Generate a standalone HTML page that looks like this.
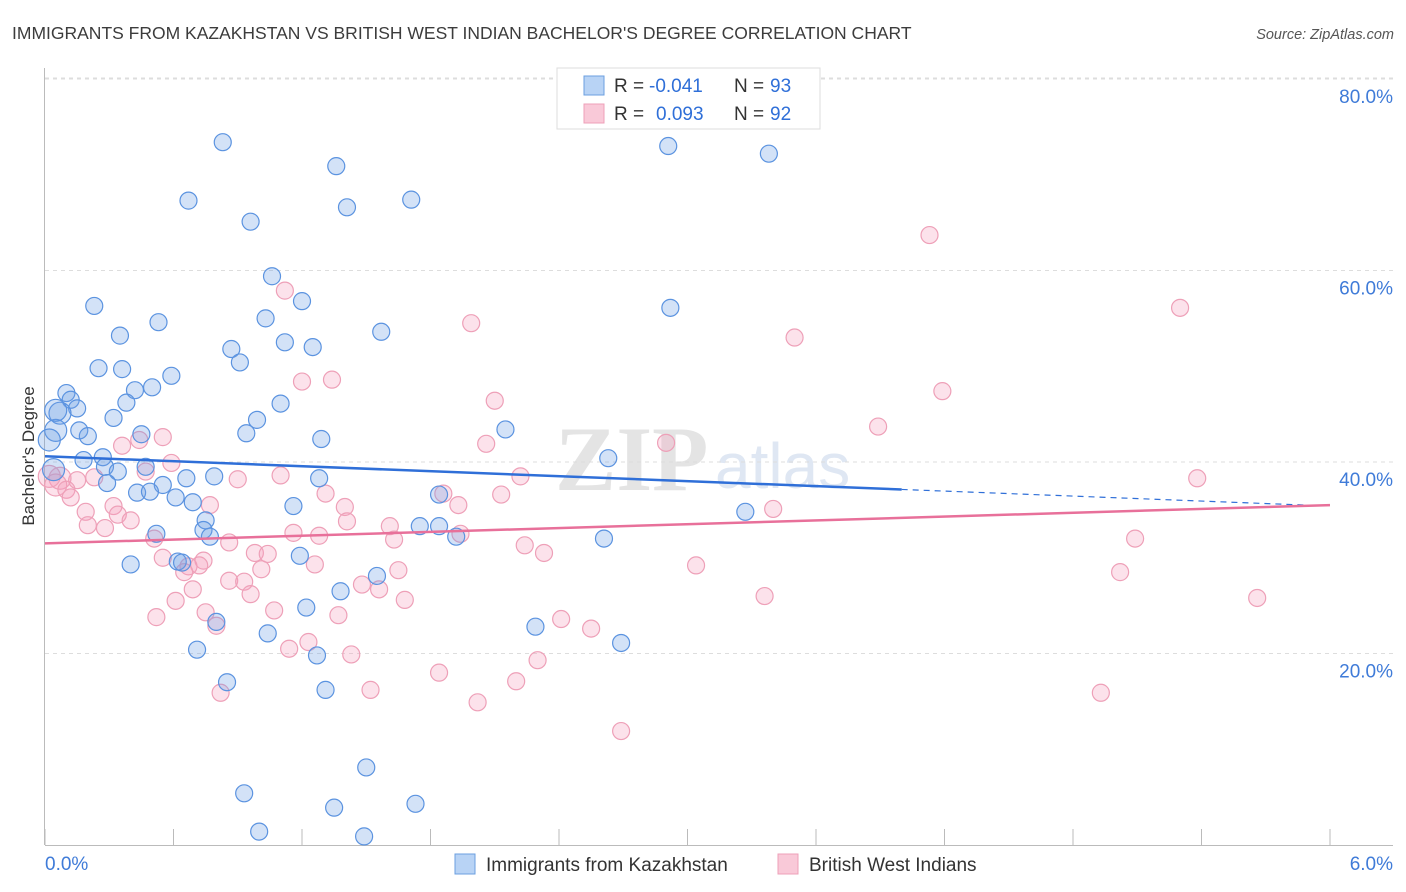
<!DOCTYPE html>
<html><head><meta charset="utf-8">
<style>
body{margin:0;background:#fff;font-family:"Liberation Sans",sans-serif;}
svg{display:block}
</style></head>
<body>
<svg id="chart" width="1406" height="892" viewBox="0 0 1406 892" xmlns="http://www.w3.org/2000/svg">
<text x="12" y="39" font-size="17.5" fill="#3c3c3c" font-family="Liberation Sans, sans-serif">IMMIGRANTS FROM KAZAKHSTAN VS BRITISH WEST INDIAN BACHELOR'S DEGREE CORRELATION CHART</text>
<text x="1394" y="39" font-size="14.5" fill="#555" font-style="italic" text-anchor="end" font-family="Liberation Sans, sans-serif">Source: ZipAtlas.com</text>
<g>
<text x="555" y="490" font-size="92" fill="#e4e4e4" font-family="Liberation Serif, serif" font-weight="bold">ZIP</text>
<text x="715" y="488" font-size="64" fill="#dfe7f3" font-family="Liberation Sans, sans-serif">atlas</text>
</g>
<g id="grid"></g>
<g id="axes"></g>
<text transform="translate(34,456) rotate(-90)" font-size="17" fill="#333" text-anchor="middle" font-family="Liberation Sans, sans-serif">Bachelor's Degree</text>
<g id="pts"></g>
<g id="trends"></g>
<g font-size="19">
<rect x="557" y="68" width="263" height="61" fill="#fff" stroke="#ddd"/>
<rect x="584" y="76" width="20" height="19" fill="#b8d3f5" stroke="#6b9fe0"/>
<rect x="584" y="104" width="20" height="19" fill="#f9c9d8" stroke="#eea0b8"/>
<text x="614" y="92" fill="#333">R =</text>
<text x="649" y="92" fill="#2f6fd8">-0.041</text>
<text x="734" y="92" fill="#333">N =</text>
<text x="770" y="92" fill="#2f6fd8">93</text>
<text x="614" y="120" fill="#333">R =</text>
<text x="656" y="120" fill="#2f6fd8">0.093</text>
<text x="734" y="120" fill="#333">N =</text>
<text x="770" y="120" fill="#2f6fd8">92</text>
</g>
<g>
<rect x="455" y="854" width="20" height="20" fill="#b8d3f5" stroke="#6b9fe0"/>
<text x="486" y="871" font-size="19" fill="#333">Immigrants from Kazakhstan</text>
<rect x="778" y="854" width="20" height="20" fill="#f9c9d8" stroke="#eea0b8"/>
<text x="809" y="871" font-size="19" fill="#333">British West Indians</text>
</g>
</svg>
<script>
const blueX=[0.83,0.67,0.96,1.36,1.41,1.71,2.91,3.38,1.06,1.20,0.23,1.03,0.53,1.57,0.35,0.87,1.12,1.25,0.91,0.25,0.36,0.59,0.50,0.42,0.10,0.12,0.15,0.07,0.32,0.38,1.10,0.99,0.94,0.05,0.16,0.20,0.45,1.29,2.15,0.18,0.27,0.28,0.34,0.47,0.66,0.79,1.28,0.04,0.29,0.55,0.43,0.49,0.61,0.69,1.16,1.84,2.63,0.75,0.74,0.77,0.52,1.75,1.84,1.92,2.61,3.27,1.19,0.40,0.62,0.64,1.55,1.38,1.22,0.80,1.04,2.29,2.69,0.71,1.27,0.85,1.31,1.50,0.93,1.73,1.35,1.00,1.49,2.92,0.05,0.02];
const blueY=[73.4,67.3,65.1,70.9,66.6,67.4,73.0,72.2,59.4,56.8,56.3,55.0,54.6,53.6,53.2,51.8,52.5,52.0,50.4,49.8,49.7,49.0,47.8,47.5,47.2,46.5,45.6,45.1,44.6,46.2,46.1,44.4,43.0,43.3,43.3,42.7,42.9,42.4,43.4,40.2,40.5,39.5,39.0,39.5,38.3,38.5,38.3,39.2,37.8,37.6,36.8,36.9,36.3,35.8,35.4,36.6,40.4,33.9,32.9,32.2,32.5,33.3,33.3,32.2,32.0,34.8,30.2,29.3,29.6,29.5,28.1,26.5,24.8,23.3,22.1,22.8,21.1,20.4,19.8,17.0,16.2,8.1,5.4,4.3,3.9,1.4,0.9,56.1,45.4,42.3];
const pinkX=[4.13,5.30,1.12,1.99,3.50,1.20,1.34,4.19,2.10,3.89,2.06,2.90,0.36,0.44,0.55,0.59,0.47,0.23,0.15,0.07,0.02,0.05,0.10,0.12,0.90,1.10,2.22,5.38,1.86,2.13,1.31,0.77,0.32,0.19,0.34,0.40,0.20,0.28,1.40,1.41,1.93,1.94,1.61,1.63,1.16,1.28,0.86,0.51,3.40,5.09,2.24,2.33,0.55,0.98,1.04,0.74,0.67,0.65,0.72,1.26,1.01,1.65,3.04,5.02,0.86,0.93,1.48,1.56,0.69,0.96,0.61,1.68,3.36,5.66,1.07,0.75,1.37,0.52,0.80,2.41,2.55,1.23,1.14,1.43,2.30,1.84,2.20,1.52,0.82,2.02,4.93,2.69];
const pinkY=[63.7,56.1,57.9,54.5,53.0,48.4,48.6,47.4,46.4,43.7,41.9,42.0,41.7,42.3,42.6,39.9,39.0,38.4,38.1,38.3,38.5,37.6,37.1,36.3,38.2,38.6,38.5,38.3,36.7,36.6,36.7,35.5,35.4,34.8,34.5,33.9,33.4,33.1,35.3,33.8,35.5,32.5,33.3,31.9,32.6,32.3,31.6,32.0,35.1,32.0,31.3,30.5,30.0,30.5,30.4,29.7,29.1,28.5,29.2,29.3,28.8,28.7,29.2,28.5,27.6,27.5,27.2,26.7,26.7,26.2,25.5,25.6,26.0,25.8,24.5,24.3,24.0,23.8,22.9,23.6,22.6,21.2,20.5,19.9,19.3,18.0,17.1,16.2,15.9,14.9,15.9,11.9];
const yTicks=[20,40,60,80];
const yTickLabels=["20.0%","40.0%","60.0%","80.0%"];
const xTickLabels=["0.0%","6.0%"];
const blueTrend=[40.6,35.4];
const pinkTrend=[31.5,35.5];
const blueSolidEnd=4.0;

const X0=45,X1=1330,Y0=845,PX=9.575;
const sx=v=>X0+v*(X1-X0)/6;
const sy=v=>Y0-v*PX;
const NS="http://www.w3.org/2000/svg";
function mk(tag,attrs,parent){const e=document.createElementNS(NS,tag);for(const k in attrs)e.setAttribute(k,attrs[k]);parent.appendChild(e);return e;}
const gridG=document.getElementById('grid'),axesG=document.getElementById('axes'),ptsG=document.getElementById('pts'),trG=document.getElementById('trends');
yTicks.forEach((t,i)=>{
 const l=mk('line',{x1:45,x2:1393,y1:sy(t),y2:sy(t),stroke:'#ddd','stroke-dasharray':'4,4'},gridG);
 
 
 const tx=mk('text',{x:1393,y:sy(t)+24,'font-size':19,fill:'#3f7bd8','text-anchor':'end'},axesG);
 tx.textContent=yTickLabels[i];
 
 
});
const gridTop=mk('line',{x1:45,x2:1393,y1:78,y2:78,stroke:'#ddd','stroke-dasharray':'4,4'},gridG);


const ya=mk('line',{x1:44.5,x2:44.5,y1:68,y2:845,stroke:'#bbb'},axesG);


const xa=mk('line',{x1:45,x2:1393,y1:845.5,y2:845.5,stroke:'#bbb'},axesG);


for(let i=0;i<=10;i++){
 const x=sx(i*0.6);
 const tk=mk('line',{x1:x,x2:x,y1:829,y2:845,stroke:'#bbb'},axesG);
 
 
}
const xl0=mk('text',{x:45,y:870,'font-size':19,fill:'#3f7bd8'},axesG);
xl0.textContent=xTickLabels[0];


const xl1=mk('text',{x:1393,y:870,'font-size':19,fill:'#3f7bd8','text-anchor':'end'},axesG);
xl1.textContent=xTickLabels[1];



pinkX.forEach((v,i)=>{
 const c=mk('circle',{cx:sx(v),cy:sy(pinkY[i]),r:v<0.1?11:8.5,fill:'rgba(244,160,188,0.3)',stroke:'#eea0b8','stroke-width':1.2},ptsG);
 
 
});
blueX.forEach((v,i)=>{
 const c=mk('circle',{cx:sx(v),cy:sy(blueY[i]),r:v<0.08?11:8.5,fill:'rgba(110,160,230,0.3)',stroke:'#5b93e0','stroke-width':1.2},ptsG);
 
 
});
const bAt=x=>blueTrend[0]+(blueTrend[1]-blueTrend[0])*x/6;
const b1=mk('line',{x1:sx(0),y1:sy(bAt(0)),x2:sx(blueSolidEnd),y2:sy(bAt(blueSolidEnd)),stroke:'#2f6fd8','stroke-width':2.5},trG);


const b2=mk('line',{x1:sx(blueSolidEnd),y1:sy(bAt(blueSolidEnd)),x2:sx(6),y2:sy(bAt(6)),stroke:'#2f6fd8','stroke-width':1.2,'stroke-dasharray':'6,5'},trG);


const p1=mk('line',{x1:sx(0),y1:sy(pinkTrend[0]),x2:sx(6),y2:sy(pinkTrend[1]),stroke:'#e8709a','stroke-width':2.5},trG);


</script>
</body></html>
